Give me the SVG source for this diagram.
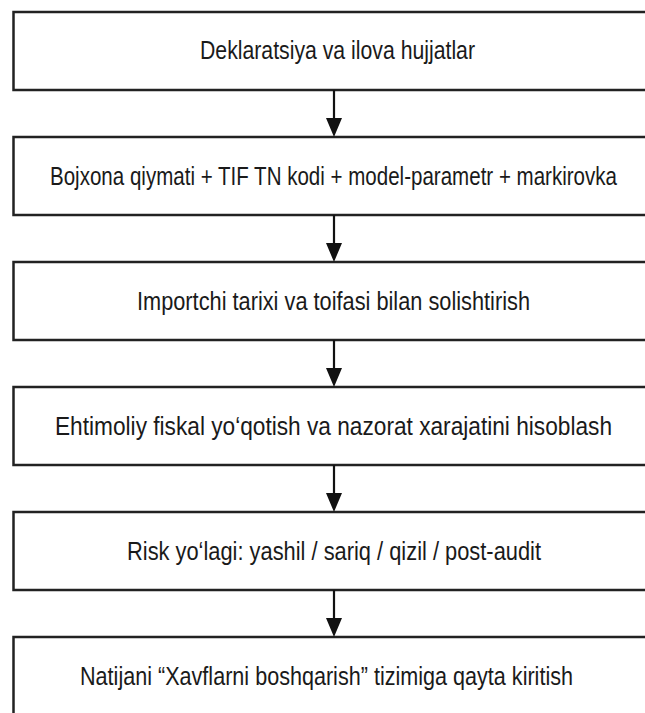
<svg xmlns="http://www.w3.org/2000/svg" width="645" height="713" viewBox="0 0 645 713">
<style>
.box{fill:#fff;stroke:#222;stroke-width:2.5}
.t{font-family:"Liberation Sans",Arial,sans-serif;font-size:25px;fill:#1a1a1a;text-anchor:middle}
.c{stroke:#111;stroke-width:2.2;fill:none}
.h{fill:#111}
</style>
<rect width="645" height="713" fill="#fff"/>
<g id="n1"><rect class="box" x="13.5" y="12" width="634" height="78"/><text class="t" x="337.5" y="59" textLength="275" lengthAdjust="spacingAndGlyphs">Deklaratsiya va ilova hujjatlar</text></g>
<g id="n2"><rect class="box" x="13.5" y="137" width="634" height="78"/><text class="t" x="333.5" y="185" textLength="567" lengthAdjust="spacingAndGlyphs">Bojxona qiymati + TIF TN kodi + model-parametr + markirovka</text></g>
<g id="n3"><rect class="box" x="13.5" y="262" width="634" height="78"/><text class="t" x="333.5" y="310" textLength="393" lengthAdjust="spacingAndGlyphs">Importchi tarixi va toifasi bilan solishtirish</text></g>
<g id="n4"><rect class="box" x="13.5" y="387" width="634" height="78"/><text class="t" x="333.5" y="435" textLength="557" lengthAdjust="spacingAndGlyphs">Ehtimoliy fiskal yo‘qotish va nazorat xarajatini hisoblash</text></g>
<g id="n5"><rect class="box" x="13.5" y="512" width="634" height="78"/><text class="t" x="334" y="560" textLength="414" lengthAdjust="spacingAndGlyphs">Risk yo‘lagi: yashil / sariq / qizil / post-audit</text></g>
<g id="n6"><rect class="box" x="13.5" y="637" width="634" height="90"/><text class="t" x="326.5" y="685" textLength="493" lengthAdjust="spacingAndGlyphs">Natijani “Xavflarni boshqarish” tizimiga qayta kiritish</text></g>
<g id="connectors">
<path class="c" d="M334 90V120M334 215V245M334 340V370M334 465V495M334 590V620"/>
<path class="h" d="M326 118H342L334 137ZM326 243H342L334 262ZM326 368H342L334 387ZM326 493H342L334 512ZM326 618H342L334 637Z"/>
</g>
</svg>
